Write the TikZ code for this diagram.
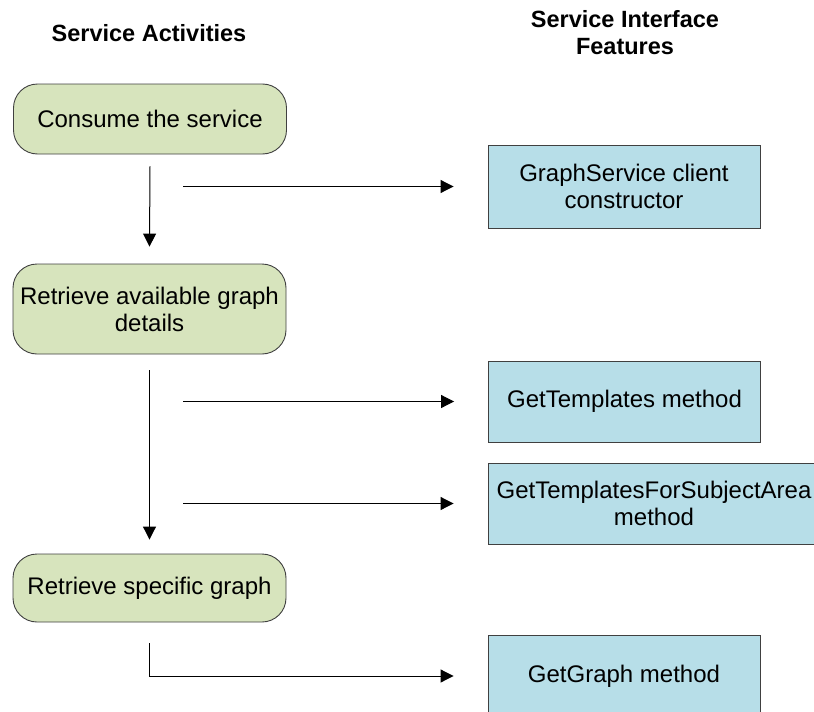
\documentclass[tikz,border=0pt]{standalone}
\usepackage{fontspec}
\setmainfont{Liberation Sans}
\usetikzlibrary{arrows.meta}
\definecolor{actgreen}{HTML}{D7E4BD}
\definecolor{featblue}{HTML}{B7DEE8}
\definecolor{edgegray}{HTML}{404040}
\begin{document}
\begin{tikzpicture}[x=1pt,y=1pt,
  activity/.style={draw=edgegray, line width=0.9pt, fill=actgreen, rounded corners=24pt,
    minimum width=273pt, align=center, inner sep=0pt,
    font=\fontsize{24}{27}\selectfont},
  feature/.style={draw=edgegray, line width=0.9pt, fill=featblue,
    minimum width=272pt, minimum height=82pt, align=center, inner sep=0pt,
    font=\fontsize{24}{27}\selectfont},
  header/.style={align=center, font=\fontsize{23.5}{27}\selectfont\bfseries},
  flow/.style={line width=1pt, -{Triangle[length=13pt,width=13pt]}}
]
\useasboundingbox (0,0) rectangle (814,-712);

\node[header] (h1) at (149,-33) {Service Activities};
\node[header] (h2) at (625,-33) {Service Interface\\Features};

\node[activity, minimum height=70pt] (c1) at (150,-119) {Consume the service};
\node[activity, minimum height=90pt] (c2) at (149.5,-309) {Retrieve available graph\\details};
\node[activity, minimum height=68pt] (c3) at (149.5,-588) {Retrieve specific graph};

\node[feature, minimum height=83pt] (b1) at (624,-186.5) {GraphService client\\constructor};
\node[feature, minimum height=81pt] (b2) at (624.5,-401.5) {GetTemplates method};
\node[feature, minimum height=81pt, minimum width=332pt] (b3) at (654,-503.5) {GetTemplatesForSubjectArea\\method};
\node[feature, minimum height=82pt] (b4) at (624,-676) {GetGraph method};

\coordinate (s1) at (183,-186.5);
\coordinate (s2) at (183,-401.5);
\coordinate (s3) at (183,-503.5);

\draw[flow] ([yshift=-12pt]c1.south) -- ([yshift=17pt]c2.north);
\draw[flow] ([yshift=-16pt]c2.south) -- ([yshift=14pt]c3.north);
\draw[flow] (s1) -- ([xshift=-34pt]b1.west);
\draw[flow] (s2) -- ([xshift=-34pt]b2.west);
\draw[flow] (s3) -- ([xshift=-34pt]b3.west);
\draw[flow] ([yshift=-21pt]c3.south) |- ([xshift=-34pt]b4.west);
\end{tikzpicture}
\end{document}
